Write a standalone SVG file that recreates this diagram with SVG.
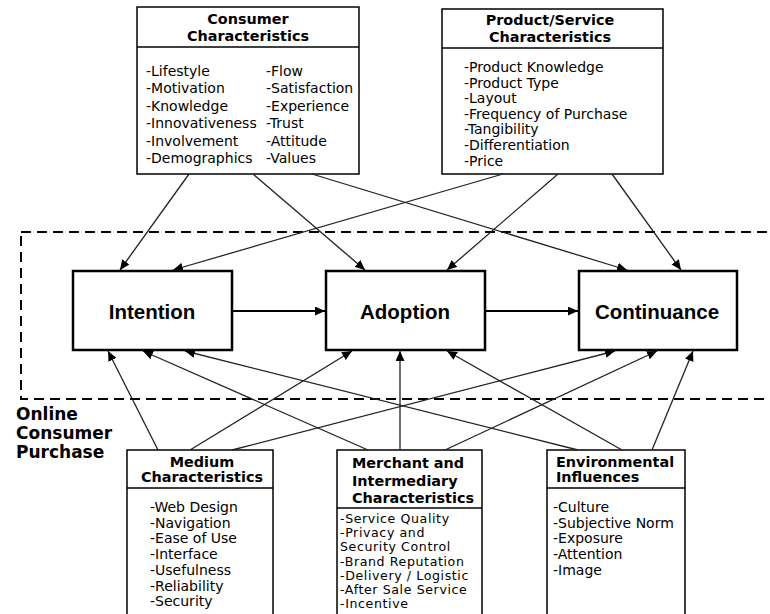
<svg xmlns="http://www.w3.org/2000/svg" width="770" height="614" viewBox="0 0 770 614">
<style>
.box{fill:#fff;stroke:#000;stroke-width:1.5}
.main{fill:#fff;stroke:#000;stroke-width:2.5}
.hd{font-family:"DejaVu Sans",sans-serif;font-weight:bold;font-size:14.4px;fill:#000}
.li{font-family:"DejaVu Sans",sans-serif;font-size:14px;fill:#000}
.lm{font-family:"DejaVu Sans",sans-serif;font-size:12.6px;letter-spacing:0.6px;fill:#000}
.mt{font-family:"Liberation Sans",Arial,sans-serif;font-weight:bold;font-size:20.5px;fill:#000}
.lbl{font-family:"DejaVu Sans",sans-serif;font-weight:bold;font-size:17px;fill:#000}
.c line{stroke:#222;stroke-width:1.3;marker-end:url(#ah)}
.c line.thick{stroke:#000;stroke-width:2.2}
</style>
<defs>
<marker id="ah" markerUnits="userSpaceOnUse" markerWidth="10" markerHeight="9" refX="10" refY="4.5" orient="auto">
<path d="M0,0 L10,4.5 L0,9 z" fill="#000"/>
</marker>
</defs>
<rect width="770" height="614" fill="#fff"/>
<g id="boundary">
<rect x="21" y="232" width="800" height="167" fill="none" stroke="#000" stroke-width="2" stroke-dasharray="10,6"/>
<text class="lbl" x="16" y="420">Online</text>
<text class="lbl" x="16" y="439">Consumer</text>
<text class="lbl" x="16" y="458">Purchase</text>
</g>
<g id="consumer">
<rect class="box" x="137" y="7" width="222" height="167"/>
<line x1="137" y1="47" x2="359" y2="47" stroke="#000" stroke-width="1.5"/>
<text class="hd" x="248" y="24" text-anchor="middle">Consumer</text>
<text class="hd" x="248" y="41" text-anchor="middle">Characteristics</text>
<text class="li" x="146" y="76">-Lifestyle</text>
<text class="li" x="146" y="93.4">-Motivation</text>
<text class="li" x="146" y="110.8">-Knowledge</text>
<text class="li" x="146" y="128.2">-Innovativeness</text>
<text class="li" x="146" y="145.6">-Involvement</text>
<text class="li" x="146" y="163">-Demographics</text>
<text class="li" x="266" y="76">-Flow</text>
<text class="li" x="266" y="93.4">-Satisfaction</text>
<text class="li" x="266" y="110.8">-Experience</text>
<text class="li" x="266" y="128.2">-Trust</text>
<text class="li" x="266" y="145.6">-Attitude</text>
<text class="li" x="266" y="163">-Values</text>
</g>
<g id="product">
<rect class="box" x="442" y="9" width="221" height="165"/>
<line x1="442" y1="48" x2="663" y2="48" stroke="#000" stroke-width="1.5"/>
<text class="hd" x="550" y="25" text-anchor="middle">Product/Service</text>
<text class="hd" x="550" y="42" text-anchor="middle">Characteristics</text>
<text class="li" x="464" y="72">-Product Knowledge</text>
<text class="li" x="464" y="87.6">-Product Type</text>
<text class="li" x="464" y="103.2">-Layout</text>
<text class="li" x="464" y="118.8">-Frequency of Purchase</text>
<text class="li" x="464" y="134.4">-Tangibility</text>
<text class="li" x="464" y="150">-Differentiation</text>
<text class="li" x="464" y="165.6">-Price</text>
</g>
<g id="intention">
<rect class="main" x="73" y="271" width="159" height="79"/>
<text class="mt" x="152" y="319" text-anchor="middle">Intention</text>
</g>
<g id="adoption">
<rect class="main" x="326" y="271" width="159" height="79"/>
<text class="mt" x="405" y="319" text-anchor="middle">Adoption</text>
</g>
<g id="continuance">
<rect class="main" x="579" y="271" width="158" height="79"/>
<text class="mt" x="657" y="319" text-anchor="middle">Continuance</text>
</g>
<g id="medium">
<rect class="box" x="127" y="450" width="146" height="175"/>
<line x1="127" y1="488" x2="273" y2="488" stroke="#000" stroke-width="1.5"/>
<text class="hd" x="202" y="467" text-anchor="middle">Medium</text>
<text class="hd" x="202" y="482" text-anchor="middle">Characteristics</text>
<text class="li" x="150" y="512">-Web Design</text>
<text class="li" x="150" y="527.7">-Navigation</text>
<text class="li" x="150" y="543.4">-Ease of Use</text>
<text class="li" x="150" y="559.1">-Interface</text>
<text class="li" x="150" y="574.8">-Usefulness</text>
<text class="li" x="150" y="590.5">-Reliability</text>
<text class="li" x="150" y="606.2">-Security</text>
</g>
<g id="merchant">
<rect class="box" x="337" y="450" width="145" height="175"/>
<line x1="337" y1="508" x2="482" y2="508" stroke="#000" stroke-width="1.5"/>
<text class="hd" x="352" y="468">Merchant and</text>
<text class="hd" x="352" y="485.5">Intermediary</text>
<text class="hd" x="352" y="503">Characteristics</text>
<text class="lm" x="340" y="523">-Service Quality</text>
<text class="lm" x="340" y="537.2">-Privacy and</text>
<text class="lm" x="340" y="551.4">Security Control</text>
<text class="lm" x="340" y="565.6">-Brand Reputation</text>
<text class="lm" x="340" y="579.8">-Delivery / Logistic</text>
<text class="lm" x="340" y="594">-After Sale Service</text>
<text class="lm" x="340" y="608.2">-Incentive</text>
</g>
<g id="environmental">
<rect class="box" x="547" y="450" width="138" height="175"/>
<line x1="547" y1="488" x2="685" y2="488" stroke="#000" stroke-width="1.5"/>
<text class="hd" x="556" y="467">Environmental</text>
<text class="hd" x="556" y="482">Influences</text>
<text class="li" x="553" y="512">-Culture</text>
<text class="li" x="553" y="527.7">-Subjective Norm</text>
<text class="li" x="553" y="543.4">-Exposure</text>
<text class="li" x="553" y="559.1">-Attention</text>
<text class="li" x="553" y="574.8">-Image</text>
</g>
<g id="connectors" class="c">
<line class="thick" x1="232" y1="311" x2="325" y2="311"/>
<line class="thick" x1="485" y1="311" x2="578" y2="311"/>
<line x1="189" y1="174" x2="120" y2="270"/>
<line x1="253" y1="174" x2="365" y2="270"/>
<line x1="312" y1="174" x2="627" y2="270"/>
<line x1="503" y1="174" x2="173" y2="270"/>
<line x1="558" y1="174" x2="447" y2="270"/>
<line x1="612" y1="174" x2="681" y2="270"/>
<line x1="158" y1="450" x2="108" y2="351"/>
<line x1="190" y1="450" x2="352" y2="351"/>
<line x1="232" y1="450" x2="615" y2="351"/>
<line x1="368" y1="450" x2="143" y2="351"/>
<line x1="400" y1="450" x2="400" y2="351"/>
<line x1="445" y1="450" x2="657" y2="351"/>
<line x1="578" y1="450" x2="185" y2="351"/>
<line x1="622" y1="450" x2="447" y2="351"/>
<line x1="652" y1="450" x2="693" y2="351"/>
</g>
</svg>
